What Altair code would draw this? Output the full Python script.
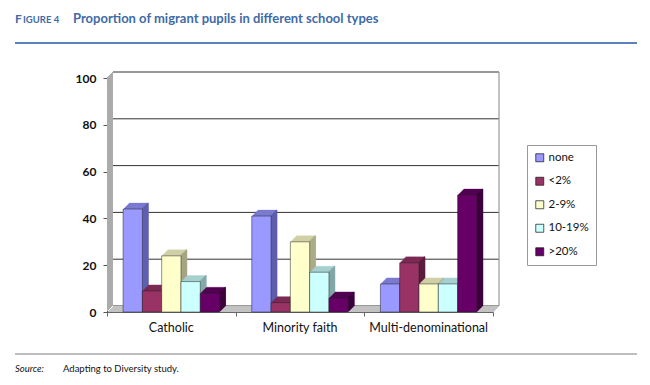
import json
import altair as alt
import pandas as pd

# ---- data ----
categories = ["Catholic", "Minority faith", "Multi-denominational"]
series = ["none", "<2%", "2-9%", "10-19%", ">20%"]
vals_none = [44, 41, 12]
vals_lt2 = [9, 4, 21]
vals_2_9 = [24, 30, 12]
vals_10_19 = [13, 17, 12]
vals_gt20 = [8, 6, 50]
y_ticks = [0, 20, 40, 60, 80, 100]

title_label = "FIGURE 4"
title_text = "Proportion of migrant pupils in different school types"
source_label = "Source:"
source_text = "Adapting to Diversity study."

all_vals = [vals_none, vals_lt2, vals_2_9, vals_10_19, vals_gt20]
rows = []
for s, vals in zip(series, all_vals):
    for c, v in zip(categories, vals):
        rows.append({"school": c, "share": s, "value": v})
df = pd.DataFrame(rows)
grid_df = pd.DataFrame({"value": y_ticks})
cat_df = pd.DataFrame({"school": categories})

# ---- style ----
W, H = 386, 234
D = 6
FONT = "Lato"
front_colors = ["#9999FF", "#993366", "#FFFFCC", "#CCFFFF", "#660066"]
top_colors = ["#7A7AD0", "#7C2A54", "#D0D0A6", "#A6D0D0", "#520052"]
side_colors = ["#5E5EAE", "#5E1F3F", "#A6A683", "#83A6A6", "#3D003D"]
BLUE = "#3F6BA6"
GROUP = 0.75          # share of each category band used by the bar group
BAR = GROUP / len(series)

cats_js = json.dumps(categories)
series_js = json.dumps(series)

x_axis = alt.Axis(title=None, values=[-0.5, 0.5, 1.5, 2.5], labels=False, tickSize=4,
                  tickColor="#666", domainColor="#666", grid=False)
y_axis = alt.Axis(title=None, values=y_ticks, labelFont=FONT, labelFontSize=12,
                  labelColor="#111", labelFontWeight="bold", labelPadding=7,
                  tickSize=4, tickColor="#555", domainColor="#555", grid=False)
x_scale = alt.Scale(domain=[-0.5, len(categories) - 0.5], nice=False, zero=False, padding=0)
y_scale = alt.Scale(domain=[0, 100], nice=False, padding=0)

xenc = alt.X("x0:Q", axis=x_axis, scale=x_scale)
x2enc = alt.X2("x1:Q")
yenc = alt.Y("value:Q", axis=y_axis, scale=y_scale)
y2zero = alt.Y2("base:Q")

layers = []

# back wall grid lines
layers.append(
    alt.Chart(grid_df).mark_rule(color="#333", strokeWidth=1, yOffset=-D, y2Offset=-D)
    .encode(y=yenc, x=alt.value(D), x2=alt.value(W + D))
)
# back wall right edge
layers.append(
    alt.Chart(grid_df).mark_rule(color="#999", strokeWidth=1.2, xOffset=W + D, yOffset=-D, y2Offset=-D)
    .encode(y=alt.Y("min(value):Q", axis=y_axis, scale=y_scale), y2=alt.Y2("max(value):Q"),
            x=alt.value(0))
)
# left wall and floor (stepped parallelograms)
for k in range(1, D + 1):
    layers.append(
        alt.Chart(grid_df).mark_rect(color="#ABABAB", yOffset=-k, y2Offset=-k)
        .encode(y=alt.Y("min(value):Q", axis=y_axis, scale=y_scale), y2=alt.Y2("max(value):Q"),
                x=alt.value(k - 1), x2=alt.value(k))
    )
for k in range(1, D + 1):
    layers.append(
        alt.Chart(grid_df).mark_rect(color="#C2C2C2", yOffset=-k, y2Offset=-k + 1)
        .encode(y=alt.Y("min(value):Q", axis=y_axis, scale=y_scale), y2=alt.Y2("min(value):Q"),
                x=alt.value(k), x2=alt.value(W + k))
    )

# bars with 3D depth, painted left to right
bars = alt.Chart(df).transform_calculate(
    ci=f"indexof({cats_js}, datum.school)",
    si=f"indexof({series_js}, datum.share)",
    base="0",
).transform_calculate(
    x0=f"datum.ci - {GROUP / 2} + datum.si * {BAR}",
).transform_calculate(
    x1=f"datum.x0 + {BAR}",
)
for i, s in enumerate(series):
    base = bars.transform_filter(alt.datum.share == s)
    # top face (stepped copies shifted up-right)
    for k in range(1, D + 1):
        layers.append(
            base.mark_bar(fill=top_colors[i], stroke=top_colors[i], strokeWidth=0.3,
                          xOffset=k, x2Offset=k, yOffset=-k, y2Offset=-k)
            .encode(x=xenc, x2=x2enc, y=yenc, y2=y2zero)
        )
    # side face (1px strips along the right edge)
    for k in range(1, D + 1):
        layers.append(
            base.mark_bar(fill=side_colors[i], stroke=side_colors[i], strokeWidth=0.3,
                          xOffset=k - 1, x2Offset=k, yOffset=-k, y2Offset=-k)
            .encode(x=alt.X("x1:Q", axis=x_axis, scale=x_scale), x2=alt.X2("x1:Q"),
                    y=yenc, y2=y2zero)
        )
    layers.append(
        base.mark_bar(stroke="#222", strokeWidth=0.5)
        .encode(
            x=xenc, x2=x2enc, y=yenc, y2=y2zero,
            color=alt.Color("share:N", sort=series,
                            scale=alt.Scale(domain=series, range=front_colors),
                            legend=alt.Legend(title=None, orient="none", legendX=420, legendY=67,
                                              padding=7, strokeColor="#999", fillColor="white",
                                              symbolType="square", symbolSize=64,
                                              symbolStrokeColor="#111", symbolStrokeWidth=0.7,
                                              labelFont=FONT, labelFontSize=11.5, labelColor="#111",
                                              rowPadding=10.5, symbolOffset=0, labelOffset=3)),
        )
    )

# category labels under the bands
layers.append(
    alt.Chart(cat_df).transform_calculate(x0=f"indexof({cats_js}, datum.school)")
    .mark_text(font=FONT, fontSize=12.5, color="#111", baseline="middle")
    .encode(x=xenc, y=alt.value(H + 16), text="school:N")
)

# title, rules, source
def text_layer(txt, x, y, size, weight="normal", style="normal", color="#111"):
    return alt.Chart(pd.DataFrame({"t": [txt]})).mark_text(
        align="left", baseline="alphabetic", font=FONT, fontSize=size,
        fontWeight=weight, fontStyle=style, color=color
    ).encode(x=alt.value(x), y=alt.value(y), text="t:N")

layers.append(text_layer(title_label[0], -92, -55, 12, "bold", color=BLUE))
layers.append(text_layer(title_label[1:], -84, -55, 9.5, "bold", color=BLUE))
layers.append(text_layer(title_text, -34, -55, 13, "bold", color=BLUE))
layers.append(text_layer(source_label, -92, 294, 9.5, style="italic"))
layers.append(text_layer(source_text, -44, 294, 9.5))

rule_df = pd.DataFrame({"v": [0]})
layers.append(
    alt.Chart(rule_df).mark_rule(color="#5B82BC", strokeWidth=2)
    .encode(x=alt.value(-92), x2=alt.value(530), y=alt.value(-35))
)
layers.append(
    alt.Chart(rule_df).mark_rule(color="#A8A8A8", strokeWidth=1.5)
    .encode(x=alt.value(-92), x2=alt.value(530), y=alt.value(276))
)

chart = alt.layer(*layers).properties(
    width=W, height=H,
    autosize=alt.AutoSizeParams(type="none"),
    padding={"left": 99, "top": 70, "right": 149, "bottom": 65},
).configure_view(stroke=None)

chart.save("out.html", embed_options={"renderer": "svg", "actions": False})
